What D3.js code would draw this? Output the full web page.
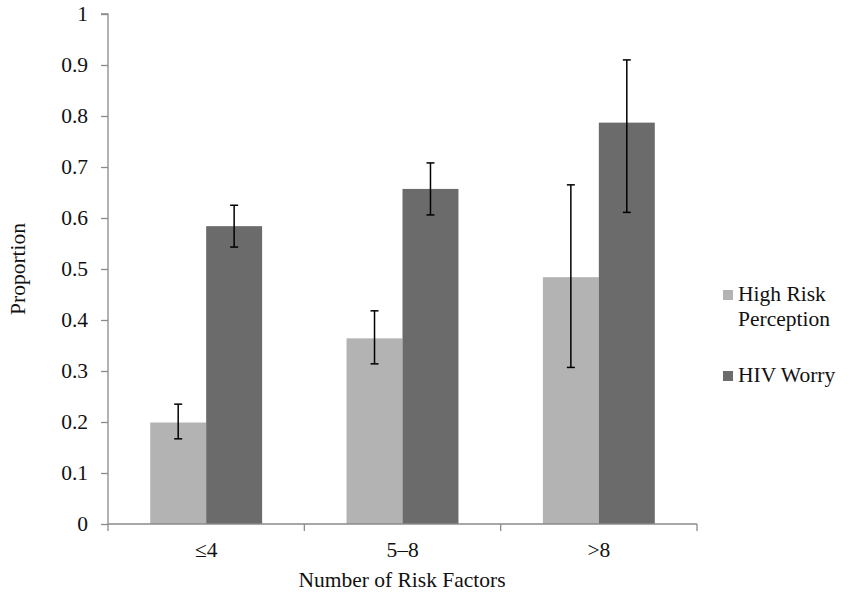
<!DOCTYPE html>
<html lang="en">
<head>
    <meta charset="UTF-8">
    <title>Proportion by Number of Risk Factors</title>
    <script src="https://d3js.org/d3.v7.min.js"></script>
    <style>
        body { margin: 0; background: #fff; }
        svg text { font-family: "Liberation Serif", "Times New Roman", Times, "DejaVu Serif", serif; fill: #111; }
        .axis path, .axis line { stroke: #8a8a8a; stroke-width: 1.3px; }
        .err { stroke: #000; stroke-width: 1.5px; }
    </style>
</head>
<body>
    <svg width="852" height="596"></svg>

    <script>
        // categories and series
        const categories = ["\u22644", "5\u20138", ">8"];
        const seriesNames = ["High Risk Perception", "HIV Worry"];

        const highRisk = [0.199, 0.364, 0.484];
        const highRiskLow = [0.167, 0.314, 0.307];
        const highRiskHigh = [0.235, 0.418, 0.665];

        const hivWorry = [0.584, 0.657, 0.787];
        const hivWorryLow = [0.543, 0.606, 0.611];
        const hivWorryHigh = [0.625, 0.708, 0.910];

        const yTicks = [0, 0.1, 0.2, 0.3, 0.4, 0.5, 0.6, 0.7, 0.8, 0.9, 1];
        const colors = ["#b3b3b3", "#6b6b6b"];

        const serif = "'Liberation Serif', 'Times New Roman', Times, 'DejaVu Serif', serif";
        const svg = d3.select("svg");
        const mLeft = 108, mRight = 697, mTop = 14, mBottom = 524;

        const x = d3.scaleBand()
            .domain(categories)
            .range([mLeft, mRight])
            .paddingInner(0.43)
            .paddingOuter(0.215);

        const xSub = d3.scaleBand()
            .domain(seriesNames)
            .range([0, x.bandwidth()]);

        const y = d3.scaleLinear().domain([0, 1]).range([mBottom, mTop]);

        // build rows for drawing
        const rows = [];
        categories.forEach((c, i) => {
            rows.push({ cat: c, s: seriesNames[0], v: highRisk[i], lo: highRiskLow[i], hi: highRiskHigh[i], k: 0 });
            rows.push({ cat: c, s: seriesNames[1], v: hivWorry[i], lo: hivWorryLow[i], hi: hivWorryHigh[i], k: 1 });
        });

        // bars
        svg.append("g")
            .selectAll("rect")
            .data(rows)
            .enter().append("rect")
            .attr("x", d => x(d.cat) + xSub(d.s))
            .attr("y", d => y(d.v))
            .attr("width", xSub.bandwidth())
            .attr("height", d => y(0) - y(d.v))
            .attr("fill", d => colors[d.k]);

        // axes
        const yAxis = svg.append("g")
            .attr("class", "axis")
            .attr("transform", `translate(${mLeft},0)`)
            .call(d3.axisLeft(y).tickValues(yTicks).tickFormat(d3.format("")).tickSize(7).tickPadding(13))
            .attr("font-family", serif)
            .attr("font-size", 21.5);
        yAxis.select(".domain").attr("d", `M-7,${mTop}H0V${mBottom}`);

        const xAxis = svg.append("g")
            .attr("class", "axis")
            .attr("transform", `translate(0,${mBottom})`)
            .call(d3.axisBottom(x).tickSize(0).tickPadding(18))
            .attr("font-family", serif)
            .attr("font-size", 21.5);
        xAxis.select(".domain").attr("d", `M${mLeft},0H${mRight}`);
        xAxis.selectAll(".tick text").attr("dy", "0.71em");

        // x ticks between categories
        const bounds = [0, 1, 2, 3].map(i => mLeft + i * (mRight - mLeft) / 3);
        xAxis.selectAll(".sep")
            .data(bounds)
            .enter().append("line")
            .attr("x1", d => d).attr("x2", d => d)
            .attr("y1", 0).attr("y2", 7);

        // error bars
        const eg = svg.append("g");
        const cx = d => x(d.cat) + xSub(d.s) + xSub.bandwidth() / 2;
        eg.selectAll(".v").data(rows).enter().append("line")
            .attr("class", "err")
            .attr("x1", cx).attr("x2", cx)
            .attr("y1", d => y(d.lo)).attr("y2", d => y(d.hi));
        eg.selectAll(".t").data(rows).enter().append("line")
            .attr("class", "err")
            .attr("x1", d => cx(d) - 4).attr("x2", d => cx(d) + 4)
            .attr("y1", d => y(d.hi)).attr("y2", d => y(d.hi));
        eg.selectAll(".b").data(rows).enter().append("line")
            .attr("class", "err")
            .attr("x1", d => cx(d) - 4).attr("x2", d => cx(d) + 4)
            .attr("y1", d => y(d.lo)).attr("y2", d => y(d.lo));

        // axis titles
        svg.append("text")
            .attr("x", 402)
            .attr("y", 587)
            .attr("text-anchor", "middle")
            .attr("font-family", serif)
            .attr("font-size", 21.5)
            .text("Number of Risk Factors");

        svg.append("text")
            .attr("transform", `translate(25,${(mTop + mBottom) / 2}) rotate(-90)`)
            .attr("text-anchor", "middle")
            .attr("font-family", serif)
            .attr("font-size", 21.5)
            .text("Proportion");

        // legend
        const legend = svg.append("g");
        const legendItems = [
            { lines: ["High Risk", "Perception"], y: 301, k: 0 },
            { lines: ["HIV Worry"], y: 382, k: 1 }
        ];
        legendItems.forEach(it => {
            legend.append("rect")
                .attr("x", 723).attr("y", it.y - 11)
                .attr("width", 10).attr("height", 10)
                .attr("fill", colors[it.k]);
            it.lines.forEach((t, j) => {
                legend.append("text")
                    .attr("x", 738).attr("y", it.y + j * 24.5)
                    .attr("font-family", serif)
                    .attr("font-size", 21.5)
                    .text(t);
            });
        });
    </script>
</body>
</html>
